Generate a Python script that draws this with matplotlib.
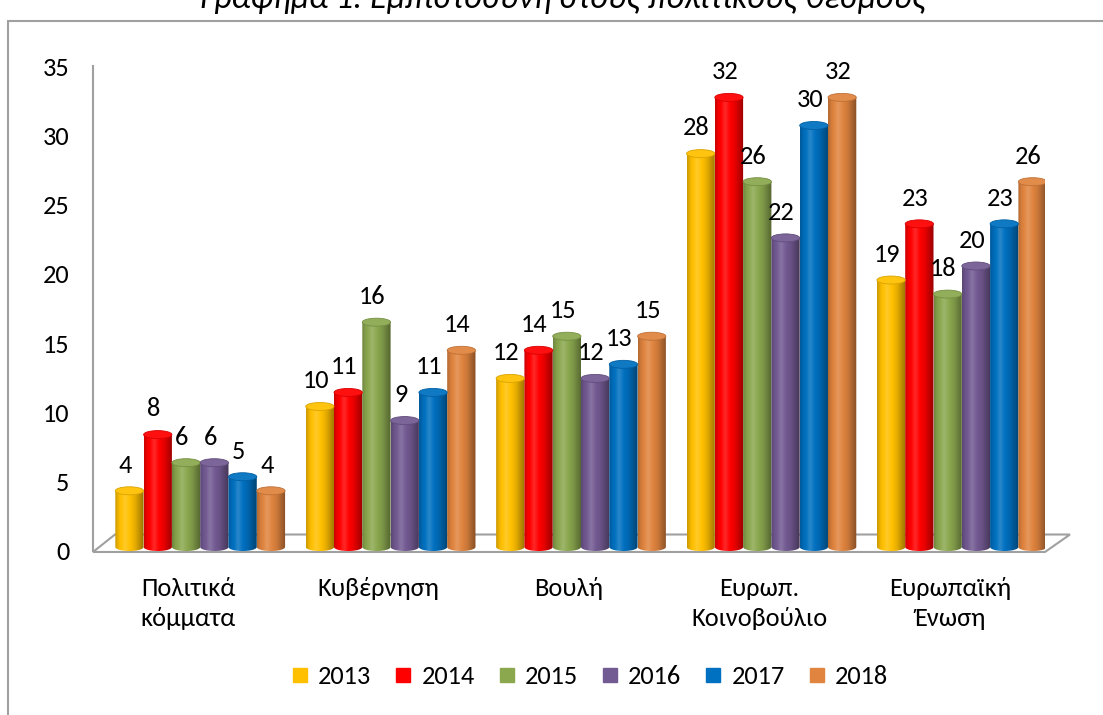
import numpy as np
import matplotlib.pyplot as plt
from matplotlib.patches import Ellipse, PathPatch, Polygon, Rectangle
from matplotlib.path import Path
from matplotlib.lines import Line2D

plt.rcParams['font.family'] = ['Carlito', 'Noto Sans', 'DejaVu Sans']

# data
categories = ['Πολιτικά\nκόμματα', 'Κυβέρνηση', 'Βουλή', 'Ευρωπ.\nΚοινοβούλιο', 'Ευρωπαϊκή\nΈνωση']
years = ['2013', '2014', '2015', '2016', '2017', '2018']
v2013 = [4, 10, 12, 28, 19]
v2014 = [8, 11, 14, 32, 23]
v2015 = [6, 16, 15, 26, 18]
v2016 = [6, 9, 12, 22, 20]
v2017 = [5, 11, 13, 30, 23]
v2018 = [4, 14, 15, 32, 26]
series = [v2013, v2014, v2015, v2016, v2017, v2018]
yticks = [0, 5, 10, 15, 20, 25, 30, 35]
title = 'Γράφημα 1: Εμπιστοσύνη στους πολιτικούς θεσμούς'

colors = ['#FFC000', '#FF0000', '#8BA84F', '#725A92', '#0070C0', '#E0843F']
GRAY = '#A0A0A0'
W, H = 1103, 715
FS = 19


def fx(p):
    return p / W


def fy(p):
    return 1 - p / H


def shade(c, k):
    c = np.array(plt.matplotlib.colors.to_rgb(c))
    if k > 1:
        return np.clip(c + (1 - c) * (k - 1) * 1.6, 0, 1)
    return np.clip(c * k, 0, 1)


fig = plt.figure(figsize=(W / 100, H / 100), dpi=100)

# frame around the chart (runs off the right/bottom edge)
fig.add_artist(Rectangle((fx(8), -0.1), 1.2, fy(21) + 0.1, transform=fig.transFigure,
                         fill=False, ec=GRAY, lw=1.5))
# title sits mostly above the picture, as in the source
fig.text(fx(563), fy(8), title, ha='center', va='baseline', fontsize=24.5, style='italic')

pos = [fx(93), fy(551), 952 / W, 485 / H]

# value axis / floor
axv = fig.add_axes(pos)
axv.set_xlim(-0.5, 4.5)
axv.set_ylim(0, 35)
axv.set_yticks(yticks)
axv.set_xticks(range(len(categories)))
axv.set_xticklabels(categories)
for t in axv.get_xticklabels():
    t.set_linespacing(1.36)
axv.tick_params(axis='y', length=0, pad=17, labelsize=FS)
axv.tick_params(axis='x', length=0, pad=19, labelsize=FS)
for s in ['top', 'right', 'bottom']:
    axv.spines[s].set_visible(False)
axv.spines['left'].set_color(GRAY)
axv.spines['left'].set_linewidth(1.5)
axv.patch.set_visible(False)
floor = Polygon([(0, -0.002), (1, -0.002), (1 + 25 / 952, 0.034), (22 / 952, 0.034)],
                closed=True, fill=False, ec=GRAY, lw=1.5,
                transform=axv.transAxes, clip_on=False)
axv.add_patch(floor)

# bars
ax = fig.add_axes(pos)
ax.set_xlim(-0.5, 4.5)
ax.set_ylim(-0.285, 34.235)
ax.axis('off')
ax.patch.set_visible(False)

w = 0.1486
shift = 0.063
eh = 0.57
t = np.linspace(0, 1, 64)
lum = np.interp(t, [0, 0.12, 0.35, 0.7, 1], [0.8, 0.95, 1.1, 0.9, 0.6])

for j, (vals, c) in enumerate(zip(series, colors)):
    grad = np.array([shade(c, k) for k in lum])[None, :, :]
    for i, v in enumerate(vals):
        xc = i + shift + (j - 2.5) * w
        x0, x1 = xc - w / 2, xc + w / 2
        th = np.linspace(np.pi, 2 * np.pi, 40)
        pts = [(x0, v), (x0, 0)] + list(zip(xc + w / 2 * np.cos(th), eh / 2 * np.sin(th))) + [(x1, v), (x0, v)]
        clip = PathPatch(Path(pts), transform=ax.transData)
        im = ax.imshow(grad, extent=(x0, x1, -eh / 2, v), aspect='auto',
                       interpolation='bilinear', zorder=2)
        im.set_clip_path(clip)
        ax.add_patch(Ellipse((xc, v), w, eh, fc=shade(c, 1.04), ec=shade(c, 0.85),
                             lw=0.6, zorder=3))
        ax.annotate(str(v), (xc, v), xytext=(-3, 18.5), textcoords='offset points',
                    ha='center', va='center', fontsize=FS)

ax.set_xlim(-0.5, 4.5)
ax.set_ylim(-0.285, 34.235)

handles = [Line2D([], [], marker='s', ls='none', markersize=10.4, mfc=c, mec=c) for c in colors]
fig.legend(handles, years, loc='center', bbox_to_anchor=(fx(590), fy(677)), ncol=6,
           frameon=False, fontsize=FS, handlelength=0.6, handletextpad=0.4,
           columnspacing=0.9)

fig.savefig('out.png', dpi=100)
